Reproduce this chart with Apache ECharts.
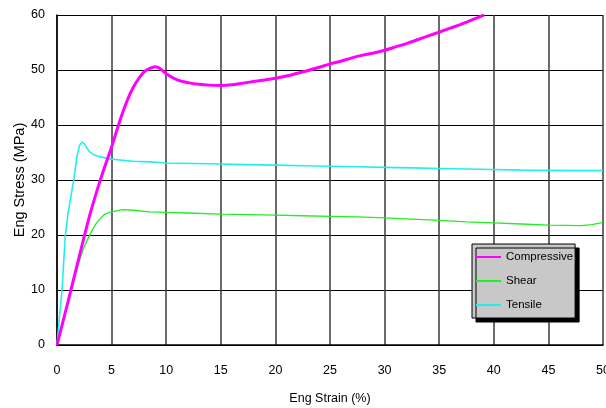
<!DOCTYPE html>
<html>
<head>
<meta charset="utf-8">
<script src="https://cdn.jsdelivr.net/npm/echarts@6/dist/echarts.min.js"></script>
<style>
  html, body { margin: 0; padding: 0; background: #fff; }
  #chart { width: 606px; height: 408px; }
</style>
</head>
<body>
<div id="chart"></div>
<script>
  const legendNames = ['Compressive', 'Shear', 'Tensile'];
  const xTicks = [0, 5, 10, 15, 20, 25, 30, 35, 40, 45, 50];
  const yTicks = [0, 10, 20, 30, 40, 50, 60];

  const compressiveStrain = [0, 1, 2, 3, 4, 5, 5.5, 6, 6.5, 7, 7.5, 8, 8.5, 9, 9.5, 10, 11, 12, 13, 14, 15, 16, 17, 18, 19, 20, 21, 22, 23, 24, 25, 26, 27, 28, 29, 30, 31, 32, 33, 34, 35, 36, 37, 38, 39.1];
  const compressiveStress = [0, 7.8, 15.8, 23.6, 30.2, 36, 39.2, 42.2, 44.8, 46.9, 48.5, 49.7, 50.3, 50.6, 50.2, 49.3, 48.2, 47.7, 47.4, 47.25, 47.2, 47.3, 47.6, 47.9, 48.2, 48.5, 48.9, 49.4, 49.9, 50.5, 51.1, 51.6, 52.2, 52.7, 53.1, 53.6, 54.2, 54.8, 55.5, 56.2, 56.9, 57.6, 58.3, 59.1, 60];

  const shearStrain = [0, 0.6, 1.2, 1.8, 2.4, 2.8, 3.2, 3.6, 4, 4.4, 5, 6, 7, 8.5, 10, 12, 15, 17.5, 20, 22.5, 25, 27.5, 30, 32.5, 35, 37.5, 40, 42.5, 45, 48, 49, 50];
  const shearStress = [0, 4.8, 9.4, 13.7, 17.4, 19.2, 20.8, 22.1, 23.1, 23.8, 24.2, 24.6, 24.5, 24.2, 24.1, 24, 23.8, 23.7, 23.6, 23.5, 23.4, 23.3, 23.1, 22.9, 22.65, 22.4, 22.2, 22, 21.8, 21.7, 21.9, 22.3];

  const tensileStrain = [0, 0.2, 0.46, 0.76, 1, 1.22, 1.52, 1.83, 2.05, 2.29, 2.5, 2.74, 3, 3.35, 3.96, 4.97, 6, 7, 8.5, 10, 12.5, 15, 17.5, 20, 22.5, 25, 27.5, 30, 32.5, 35, 37.5, 40, 42.5, 45, 47.5, 50];
  const tensileStress = [0, 4.5, 10, 19.9, 23.8, 26.4, 29.9, 34.3, 36.2, 36.9, 36.6, 35.8, 35.1, 34.6, 34.2, 33.8, 33.6, 33.4, 33.3, 33.1, 33, 32.9, 32.8, 32.7, 32.6, 32.5, 32.4, 32.3, 32.2, 32.1, 32, 31.9, 31.8, 31.75, 31.7, 31.7];

  function pairs(xs, ys) {
    return xs.map((x, i) => [x, ys[i]]);
  }

  const chart = echarts.init(document.getElementById('chart'));
  const font = '"Liberation Sans", Arial, sans-serif';

  const option = {
    animation: false,
    backgroundColor: '#fff',
    textStyle: { fontFamily: font, color: '#000' },
    grid: { left: 57, right: 3, top: 15, bottom: 63, containLabel: false, outerBoundsMode: 'none' },
    legend: {
      data: legendNames,
      orient: 'vertical',
      left: 472,
      top: 244,
      padding: [5, 2, 5, 4],
      itemWidth: 25,
      itemHeight: 2,
      itemGap: 8,
      icon: 'rect',
      backgroundColor: '#c8c8c8',
      borderColor: '#000',
      borderWidth: 1,
      shadowColor: '#000',
      shadowBlur: 0,
      shadowOffsetX: 4,
      shadowOffsetY: 4,
      textStyle: { fontFamily: font, fontSize: 11.5, color: '#000', lineHeight: 16 }
    },
    xAxis: {
      type: 'value',
      min: xTicks[0],
      max: xTicks[xTicks.length - 1],
      interval: 5,
      name: 'Eng Strain (%)',
      nameLocation: 'middle',
      nameGap: 47,
      nameMoveOverlap: false,
      nameTextStyle: { fontFamily: font, fontSize: 12.5, color: '#000' },
      axisLine: { show: true, lineStyle: { color: '#000', width: 1.5 } },
      axisTick: { show: false },
      axisLabel: { margin: 19, fontFamily: font, fontSize: 12.5, color: '#000' },
      splitLine: { show: true, lineStyle: { color: '#3a3a3a', width: 1.5 } }
    },
    yAxis: {
      type: 'value',
      min: yTicks[0],
      max: yTicks[yTicks.length - 1],
      interval: 10,
      name: 'Eng Stress (MPa)',
      nameLocation: 'middle',
      nameGap: 30,
      nameMoveOverlap: false,
      nameTextStyle: { fontFamily: font, fontSize: 14.5, color: '#000' },
      axisLine: { show: true, lineStyle: { color: '#000', width: 1.5 } },
      axisTick: { show: false },
      axisLabel: { margin: 12, fontFamily: font, fontSize: 12.5, color: '#000' },
      splitLine: { show: true, lineStyle: { color: '#000', width: 1 } }
    },
    series: [
      {
        name: 'Shear',
        type: 'line',
        data: pairs(shearStrain, shearStress),
        showSymbol: false,
        symbol: 'none',
        lineStyle: { color: '#22ee22', width: 1.3 },
        itemStyle: { color: '#22ee22' }
      },
      {
        name: 'Tensile',
        type: 'line',
        data: pairs(tensileStrain, tensileStress),
        showSymbol: false,
        symbol: 'none',
        lineStyle: { color: '#22eeee', width: 1.6 },
        itemStyle: { color: '#22eeee' }
      },
      {
        name: 'Compressive',
        type: 'line',
        data: pairs(compressiveStrain, compressiveStress),
        showSymbol: false,
        symbol: 'none',
        smooth: 0.3,
        lineStyle: { color: '#ff00ff', width: 3 },
        itemStyle: { color: '#ff00ff' }
      }
    ]
  };

  chart.setOption(option);
  window.addEventListener('resize', () => chart.resize());
</script>
</body>
</html>
